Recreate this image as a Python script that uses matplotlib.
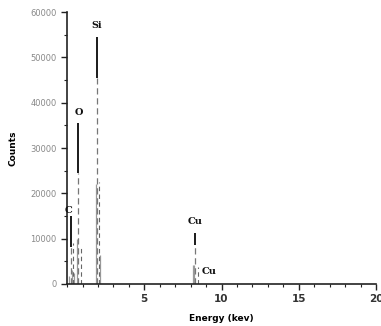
import matplotlib
matplotlib.use("Agg")
import matplotlib.pyplot as plt
from matplotlib.ticker import MultipleLocator

# Main (dark) peaks: energy keV, peak counts, and counts where the solid trace fades
main_energy = [0.24, 0.73, 1.91, 8.26]
main_counts = [15000, 35500, 54500, 11200]
main_fade = [8200, 24500, 45500, 8500]
# Fainter gray peaks
gray_energy = [0.62, 1.85, 8.15, 8.20, 0.30, 0.10, 0.45, 2.12]
gray_counts = [10000, 22000, 4200, 4200, 3000, 1800, 2500, 6400]
# Dashed trace lines
dash_energy = [0.37, 0.88, 2.09, 8.47]
dash_counts = [9000, 8000, 22500, 3800]

peak_labels = ["C", "O", "Si", "Cu", "Cu"]
label_energy = [0.10, 0.73, 1.91, 8.26, 8.7]
label_counts = [15200, 36800, 56000, 12800, 1800]

fig = plt.figure(figsize=(3.81, 3.26), dpi=100)
ax = fig.add_axes([0.176, 0.129, 0.811, 0.834])

ax.vlines(gray_energy, 0, gray_counts, color="#9a9a9a", lw=0.9)
ax.vlines(dash_energy, 0, dash_counts, color="#666666", lw=0.8, linestyles=(0, (4, 3)))
ax.vlines(main_energy, 0, main_fade, color="#777777", lw=0.9, linestyles=(0, (5, 3)))
ax.vlines(main_energy, main_fade, main_counts, color="#1a1a1a", lw=1.4)

for t, e, c in zip(peak_labels, label_energy, label_counts):
    ax.text(e, c, t, ha="left" if e > 8.5 else "center", va="bottom",
            fontsize=7, fontweight="bold", family="DejaVu Serif", color="#111111")

ax.set_xlim(0, 20)
ax.set_ylim(0, 60000)
ax.yaxis.set_major_locator(MultipleLocator(10000))
ax.yaxis.set_minor_locator(MultipleLocator(5000))
ax.xaxis.set_minor_locator(MultipleLocator(1))
for s in ["top", "right"]:
    ax.spines[s].set_visible(False)
for s in ["left", "bottom"]:
    ax.spines[s].set_linewidth(1.2)
    ax.spines[s].set_color("#222222")
ax.tick_params(axis="both", which="major", length=4, width=1, color="#222222")
ax.tick_params(axis="both", which="minor", length=2.5, width=0.8, color="#222222")
ax.tick_params(axis="y", labelsize=6, labelcolor="#888888")
ax.set_xticks([5, 10, 15, 20])
ax.set_xticklabels(["5", "10", "15", "20"], fontweight="bold", color="#333333", fontsize=7.5)
ax.set_xlabel("Energy (kev)", fontsize=6.5, fontweight="bold", labelpad=7)
ax.set_ylabel("Counts", fontsize=6.5, fontweight="bold", labelpad=9)

fig.savefig("out.png", dpi=100)
